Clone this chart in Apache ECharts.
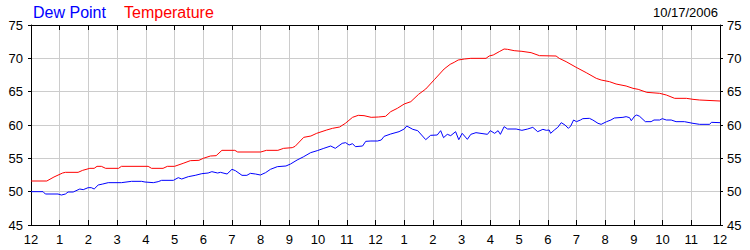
<!DOCTYPE html>
<html>
<head>
<meta charset="utf-8">
<script src="https://cdn.jsdelivr.net/npm/echarts@6/dist/echarts.min.js"></script>
<style>html,body{margin:0;padding:0;background:#fff}#c{width:750px;height:250px}</style>
</head>
<body>
<div id="c"></div>
<script>
var tempHours = [0,0.55,0.8,1.1,1.2,1.64,1.8,2.05,2.2,2.3,2.45,2.6,3.05,3.15,4.08,4.2,4.6,4.75,5.0,5.3,5.55,5.85,6.0,6.25,6.45,6.65,7.1,7.2,8.0,8.2,8.6,8.8,9.1,9.2,9.5,9.75,9.95,10.3,10.5,10.75,10.95,11.2,11.4,11.6,11.85,12.1,12.35,12.53,12.76,13.0,13.23,13.5,13.75,14.05,14.39,14.6,14.74,14.88,15.1,15.32,15.85,15.96,16.1,16.31,16.48,16.6,16.83,17.1,17.42,17.71,18.29,18.4,18.64,18.99,19.34,19.69,19.86,20.15,20.38,20.73,20.97,21.15,21.45,21.9,22.13,22.42,22.83,23.06,23.29,24];
var tempValues = [51.6,51.6,52.2,52.8,52.9,52.9,53.2,53.5,53.5,53.8,53.8,53.5,53.5,53.8,53.8,53.5,53.5,53.8,53.8,54.25,54.65,54.7,55.0,55.35,55.4,56.2,56.2,55.95,55.95,56.2,56.2,56.5,56.6,56.8,58.15,58.35,58.75,59.25,59.5,59.7,60.25,61.15,61.45,61.4,61.15,61.2,61.3,62.0,62.5,63.15,63.5,64.6,65.4,66.8,68.4,69.1,69.4,69.75,69.9,70.0,70.0,70.35,70.5,71.0,71.4,71.35,71.15,71.05,70.85,70.4,70.35,70.0,69.5,68.65,67.85,67.0,66.75,66.5,66.15,65.85,65.5,65.35,64.9,64.75,64.5,64.0,64.0,63.85,63.75,63.6];
var dewHours = [0,0.42,0.5,0.94,1.06,1.2,1.29,1.47,1.7,1.82,1.99,2.1,2.2,2.34,2.5,2.69,3.15,3.5,3.85,3.97,4.26,4.43,4.55,4.96,5.13,5.25,5.48,5.72,5.95,6.17,6.3,6.5,6.6,6.83,7.0,7.12,7.35,7.52,7.64,7.82,7.99,8.17,8.34,8.58,8.88,9.04,9.27,9.5,9.74,9.97,10.2,10.44,10.6,10.84,10.96,11.08,11.2,11.3,11.55,11.66,11.84,12.07,12.2,12.3,12.53,12.82,13.0,13.09,13.3,13.47,13.75,13.92,14.15,14.27,14.37,14.5,14.62,14.79,14.9,15.02,15.2,15.32,15.5,15.9,16.0,16.15,16.27,16.35,16.48,16.6,16.9,17.1,17.3,17.48,17.65,17.83,17.95,18.05,18.1,18.23,18.35,18.47,18.6,18.72,18.8,18.9,19.0,19.14,19.22,19.45,19.57,19.75,19.86,20.05,20.2,20.32,20.62,20.73,20.85,20.91,21.03,21.1,21.2,21.4,21.6,21.7,21.9,21.99,22.13,22.3,22.47,22.76,23.06,23.29,23.64,23.7,24];
var dewValues = [50.0,50.0,49.65,49.65,49.5,49.65,49.95,49.95,50.4,50.3,50.6,50.6,50.4,51.0,51.15,51.35,51.35,51.55,51.55,51.45,51.35,51.5,51.7,51.7,52.1,51.9,52.25,52.45,52.7,52.8,53.0,52.8,52.9,52.65,53.35,53.15,52.45,52.45,52.75,52.65,52.5,52.85,53.35,53.75,53.85,54.15,54.75,55.25,55.85,56.15,56.5,56.85,56.5,57.25,57.35,57.0,57.2,56.75,56.85,57.55,57.6,57.6,57.75,58.3,58.65,59.0,59.4,59.85,59.35,59.15,57.8,58.45,58.5,59.15,58.1,58.6,58.4,59.0,57.8,58.75,57.85,58.6,58.85,58.6,59.15,58.75,59.15,58.6,59.75,59.4,59.4,59.2,59.4,59.65,59.0,59.35,59.2,59.25,58.75,59.25,59.65,60.35,60.0,59.5,59.85,60.75,60.5,60.75,60.95,61.0,60.75,60.25,60.1,60.5,60.75,61.05,61.15,61.25,61.1,60.65,61.35,61.5,61.3,60.5,60.5,60.75,60.75,60.95,60.75,60.75,60.5,60.5,60.25,60.1,60.1,60.4,60.35];
var hourLabels = ['12','1','2','3','4','5','6','7','8','9','10','11','12','1','2','3','4','5','6','7','8','9','10','11','12'];
var yTicks = [45,50,55,60,65,70,75];
var dateText = '10/17/2006';

function pairs(xs, ys){ return xs.map(function(x,i){ return [x, ys[i]]; }); }
var FONT = 'Liberation Sans, Arial, sans-serif';
var chart = echarts.init(document.getElementById('c'), null, {renderer:'svg'});
var labelStyle = {color:'#000', fontSize:13, fontFamily:FONT};
chart.setOption({
  animation:false,
  backgroundColor:'#fff',
  title:[
    {text:'Dew Point', left:33, top:4, padding:0, textStyle:{color:'#0000ff', fontSize:16, fontWeight:'normal', fontFamily:FONT}},
    {text:'Temperature', left:124, top:4, padding:0, textStyle:{color:'#ff0000', fontSize:16, fontWeight:'normal', fontFamily:FONT}},
    {text:dateText, right:32, top:6, padding:0, textStyle:{color:'#000', fontSize:13, fontWeight:'normal', fontFamily:FONT}}
  ],
  grid:{left:31, right:30, top:25, bottom:25, containLabel:false},
  xAxis:[
    {type:'value', min:0, max:24, interval:1, position:'bottom',
     axisLine:{show:true, onZero:false, lineStyle:{color:'#000', width:1}},
     axisTick:{show:true, inside:true, length:5, lineStyle:{color:'#000'}},
     axisLabel:{margin:8, formatter:function(v){return hourLabels[Math.round(v)];}, color:'#000', fontSize:13, fontFamily:FONT, showMinLabel:true, showMaxLabel:true},
     splitLine:{show:true, lineStyle:{color:'#cccccc', width:1}}},
    {type:'value', min:0, max:24, interval:1, position:'top',
     axisLine:{show:true, onZero:false, lineStyle:{color:'#000', width:1}},
     axisTick:{show:true, inside:true, length:5, lineStyle:{color:'#000'}},
     axisLabel:{show:false}, splitLine:{show:false}}
  ],
  yAxis:[
    {type:'value', min:45, max:75, interval:5, position:'left',
     axisLine:{show:true, onZero:false, lineStyle:{color:'#000', width:1}},
     axisTick:{show:true, inside:false, length:3, lineStyle:{color:'#000'}},
     axisLabel:Object.assign({margin:8, formatter:function(v){return yTicks.indexOf(v)>=0?String(v):'';}}, labelStyle),
     splitLine:{show:true, lineStyle:{color:'#cccccc', width:1}}},
    {type:'value', min:45, max:75, interval:5, position:'right',
     axisLine:{show:true, onZero:false, lineStyle:{color:'#000', width:1}},
     axisTick:{show:true, inside:false, length:3, lineStyle:{color:'#000'}},
     axisLabel:Object.assign({margin:7, formatter:function(v){return yTicks.indexOf(v)>=0?String(v):'';}}, labelStyle),
     splitLine:{show:false}}
  ],
  series:[
    {name:'Dew Point', type:'line', xAxisIndex:0, yAxisIndex:0, data:pairs(dewHours, dewValues), showSymbol:false, symbol:'none', lineStyle:{color:'#0000ff', width:1}, z:3},
    {name:'Temperature', type:'line', xAxisIndex:0, yAxisIndex:0, data:pairs(tempHours, tempValues), showSymbol:false, symbol:'none', lineStyle:{color:'#ff0000', width:1}, z:4}
  ]
});
</script>
</body>
</html>
